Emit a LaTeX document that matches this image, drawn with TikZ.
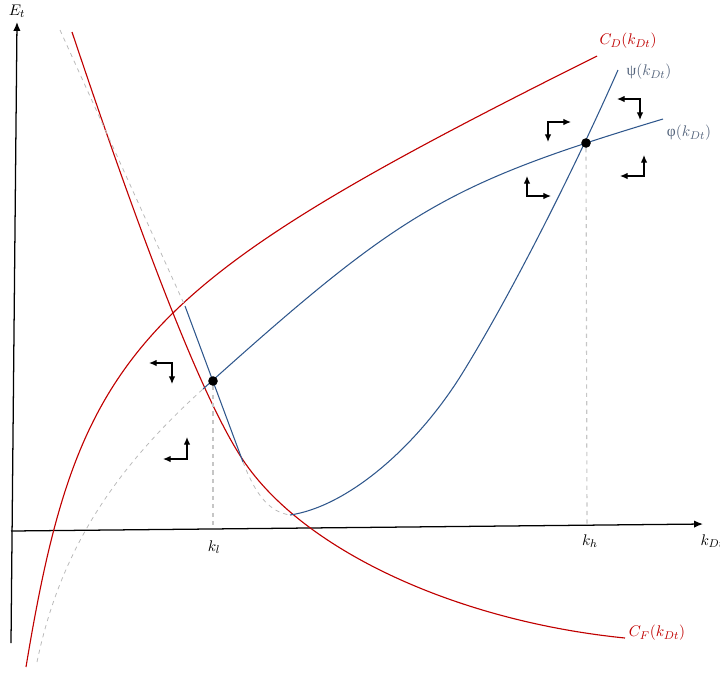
\documentclass[tikz,border=0pt]{standalone}
\usepackage{fontspec}
\newfontfamily\greekup{Liberation Serif}
\usetikzlibrary{arrows.meta}
\definecolor{costred}{RGB}{192,0,0}
\definecolor{phaseblue}{RGB}{47,87,140}
\definecolor{tagblue}{RGB}{84,100,124}

\begin{document}
\begin{tikzpicture}[
  x=0.025cm,y=-0.025cm,
  font=\fontsize{11}{13}\selectfont,
  ax/.style={draw=black,line width=.9pt,-{Latex[length=2.2mm,width=1.8mm]}},
  cost/.style={draw=costred,line width=.8pt},
  phase/.style={draw=phaseblue,line width=.75pt},
  guide/.style={draw=gray!55,dashed,line width=.55pt},
  drop/.style={draw=gray!45,dashed,line width=.8pt},
  dir/.style={draw=black,line width=.8pt,
              {Latex[length=1.9mm,width=1.6mm]}-{Latex[length=1.9mm,width=1.6mm]}},
  eq/.style={circle,fill=black,inner sep=0pt,minimum size=2.4mm},
  tag/.style={inner sep=1pt}
]
\useasboundingbox (0,0) rectangle (720,673);

% axes
\coordinate (ybot) at (11,643);
\coordinate (ytop) at (17,22);
\coordinate (xleft) at (11,531);
\coordinate (xright) at (703,524);
\draw[ax] (ybot) -- (ytop);
\draw[ax] (xleft) -- (xright);
\node[tag] (et) at (17,11) {$E_t$};
\node[tag,anchor=west] (kdt) at (699,541) {$k_{Dt}$};

% cost curves
\draw[cost] (26,667) .. controls (79,347) and (136,286) .. (597,56);
\draw[cost] (72,32) .. controls (149,262) and (205,403) .. (243,460)
  .. controls (303,550) and (456,621) .. (625,638);

% psi
\coordinate (psitop) at (185,306);
\coordinate (psibend) at (243,462);
\coordinate (psilow) at (290,515);
\coordinate (psimid) at (460,377);
\draw[guide] (60,30) -- (psitop);
\draw[phase] (psitop) -- (psibend);
\draw[guide] (psibend) .. controls (256,496) and (270,512) .. (psilow);
\draw[phase] (psilow) .. controls (345,507) and (413,451) .. (psimid)
  .. controls (505,305) and (568,183) .. (618,70);

% phi
\coordinate (phistart) at (203,389);
\draw[guide] (37,662) .. controls (59,556) and (109,474) .. (phistart);
\draw[phase] (phistart) .. controls (401,211) and (447,184) .. (663,119);

% steady states
\node[eq] (low) at (213,381) {};
\node[eq] (high) at (586,143) {};
\coordinate (lowx) at (213,528);
\coordinate (highx) at (587,525);
\draw[drop] (low) -- (lowx);
\draw[drop] (high) -- (highx);
\node[tag] (kl) at (214,547) {$k_l$};
\node[tag] (kh) at (590,541) {$k_h$};

% curve labels
\node[tag,text=costred] (cd) at (628,41) {$C_D(k_{Dt})$};
\node[tag,text=costred] (cf) at (657,633) {$C_F(k_{Dt})$};
\node[tag,text=tagblue] (psi) at (649,72) {{\greekup ψ}$(k_{Dt})$};
\node[tag,text=tagblue] (phi) at (689,133) {{\greekup φ}$(k_{Dt})$};

% directions of motion
\foreach \cx/\cy/\dx/\dy in {548/122/23/20, 640/99/-23/21, 527/196/24/-20,
    644/176/-24/-21, 172/363/-23/21, 187/459/-24/-22}
  \draw[dir] (\cx,\cy+\dy) -- (\cx,\cy) -- (\cx+\dx,\cy);
\end{tikzpicture}
\end{document}
